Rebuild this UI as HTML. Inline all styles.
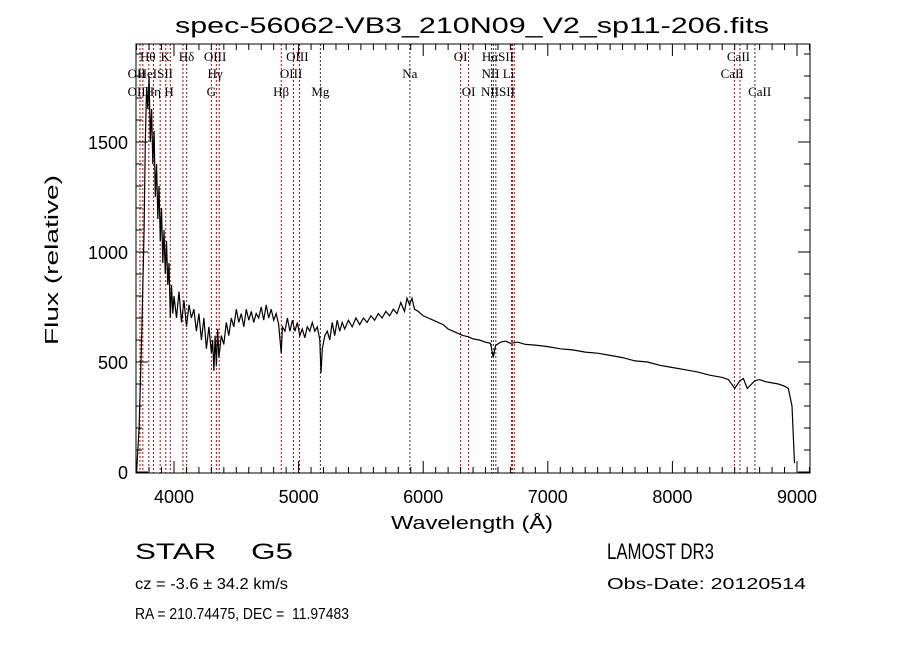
<!DOCTYPE html>
<html><head><meta charset="utf-8"><style>
html,body{margin:0;padding:0;background:#fff}
svg{display:block}
text{font-family:"Liberation Sans",sans-serif;fill:#000;white-space:pre}
.lbl{font-family:"Liberation Serif",serif;font-size:13px}
</style></head><body>
<svg id="chart" width="900" height="649" viewBox="0 0 900 649" xml:space="preserve">
<text x="472" y="33" text-anchor="middle" font-size="22" textLength="594" lengthAdjust="spacingAndGlyphs">spec-56062-VB3_210N09_V2_sp11-206.fits</text>
<g id="lines"></g>
<g id="labels"></g>
<g id="axes"></g>
<path id="spec" fill="none" stroke="#000" stroke-width="1.2"></path>
<rect x="136" y="44" width="674" height="429" fill="none" stroke="#000" stroke-width="1"></rect>
<text transform="translate(58,260) rotate(-90)" text-anchor="middle" font-size="18" textLength="170" lengthAdjust="spacingAndGlyphs">Flux (relative)</text>
<text x="472" y="529" text-anchor="middle" font-size="18" textLength="162" lengthAdjust="spacingAndGlyphs">Wavelength (Å)</text>
<text x="135" y="559" font-size="22" textLength="158" lengthAdjust="spacingAndGlyphs">STAR    G5</text>
<text x="607" y="559" font-size="22" textLength="107" lengthAdjust="spacingAndGlyphs">LAMOST DR3</text>
<text x="135" y="589" font-size="16" textLength="153" lengthAdjust="spacingAndGlyphs">cz = -3.6 ± 34.2 km/s</text>
<text x="607" y="589" font-size="16" textLength="199" lengthAdjust="spacingAndGlyphs">Obs-Date: 20120514</text>
<text x="135" y="619" font-size="16" textLength="214" lengthAdjust="spacingAndGlyphs">RA = 210.74475, DEC =  11.97483</text>
</svg>
<script>
const wavelengths=[3700,3720,3740,3760,3770,3780,3790,3800,3810,3820,3830,3840,3850,3860,3870,3880,3890,3900,3910,3920,3930,3940,3950,3960,3970,3980,3990,4000,4020,4040,4060,4080,4100,4120,4140,4160,4180,4200,4220,4240,4260,4280,4300,4310,4320,4330,4340,4350,4360,4380,4400,4420,4440,4460,4480,4500,4520,4540,4560,4580,4600,4620,4640,4660,4680,4700,4720,4740,4760,4780,4800,4820,4840,4860,4870,4890,4910,4930,4950,4970,4990,5010,5030,5050,5070,5090,5110,5130,5150,5170,5180,5190,5210,5230,5250,5270,5290,5310,5330,5350,5370,5400,5430,5460,5490,5520,5550,5580,5610,5640,5670,5700,5730,5760,5790,5820,5850,5870,5890,5910,5930,5960,6000,6040,6080,6120,6160,6200,6240,6280,6320,6360,6400,6450,6500,6540,6563,6580,6620,6660,6700,6760,6820,6900,7000,7100,7200,7300,7400,7500,7600,7700,7800,7900,8000,8100,8200,8300,8400,8450,8500,8542,8570,8600,8662,8700,8750,8800,8850,8900,8930,8960,8980,9000];
const flux=[0,200,600,1100,1500,1750,1650,1800,1500,1650,1400,1550,1250,1400,1150,1300,1050,1200,950,1100,900,1050,850,950,700,850,720,800,700,820,680,780,660,760,700,740,640,720,600,700,560,660,540,600,460,620,480,650,520,620,580,680,620,700,660,740,680,720,660,740,690,730,680,720,700,750,690,760,700,740,690,720,670,540,660,640,700,640,690,640,680,620,650,610,660,640,680,640,660,600,450,560,620,640,600,680,620,690,640,680,650,690,660,700,670,700,680,710,690,720,700,730,710,740,720,770,730,790,760,790,740,730,710,700,690,680,670,650,640,630,620,615,605,600,590,585,520,575,590,595,585,590,580,577,570,560,555,545,540,530,520,505,500,485,475,465,455,440,430,420,380,415,425,380,415,420,410,405,400,390,380,300,40];
const lineWaves=[3727,3750,3798,3835,3889,3934,3970,4072,4102,4300,4340,4363,4861,4959,5007,5175,5893,6300,6364,6548,6563,6583,6708,6716,6731,8498,8542,8662];
const lineBlack=[false,false,false,false,false,false,false,false,true,false,false,false,false,false,false,true,true,false,false,true,true,true,false,false,false,false,false,true];
const labelText=["Hθ","K","Hδ","OIII","OIII","OI","HαSII","CaII","OII","HeISII","Hγ","OIII","Na","NII Li","CaII","OII","Hη","H","G","Hβ","Mg","OI","NIISII","CaII"];
const labelRow=[0,0,0,0,0,0,0,0,1,1,1,1,1,1,1,2,2,2,2,2,2,2,2,2];
const labelWave=[3790,3930,4100,4330,4990,6300,6600,8530,3700,3850,4330,4940,5893,6600,8480,3700,3830,3960,4300,4860,5175,6364,6600,8700];
const xTicks=[4000,5000,6000,7000,8000,9000];
const yTicks=[0,500,1000,1500];
const X0=136,X1=810,Y0=44,Y1=473;
const xs=w=>174+(w-4000)*0.1246;
const ys=f=>472-f*0.22;
const NS='http://www.w3.org/2000/svg';
function mk(tag,parent){const e=document.createElementNS(NS,tag);parent.appendChild(e);return e;}
const gl=document.getElementById('lines'),glb=document.getElementById('labels'),ga=document.getElementById('axes');
lineWaves.forEach((w,i)=>{const l=mk('line',gl);


l.setAttribute('x1',xs(w));l.setAttribute('x2',xs(w));l.setAttribute('y1',Y0);l.setAttribute('y2',Y1);
l.setAttribute('stroke',lineBlack[i]?'#333':'#c00000');l.setAttribute('stroke-width','1');l.setAttribute('stroke-dasharray','2,2');});
const rowY=[61,78,96];
labelText.forEach((t,i)=>{const e=mk('text',glb);


e.setAttribute('class','lbl');e.setAttribute('x',xs(labelWave[i]));e.setAttribute('y',rowY[labelRow[i]]);
e.setAttribute('text-anchor','middle');e.textContent=t;});
for(let w=3700;w<=9100;w+=100){const major=w%1000===0;const len=major?12:6;
[[Y1,Y1-len],[Y0,Y0+len]].forEach(p=>{const l=mk('line',ga);


l.setAttribute('x1',xs(w));l.setAttribute('x2',xs(w));l.setAttribute('y1',p[0]);l.setAttribute('y2',p[1]);l.setAttribute('stroke','#000');});}
for(let f=0;f<=1900;f+=100){const major=f%500===0;const len=major?12:6;
[[X0,X0+len],[X1,X1-len]].forEach(p=>{const l=mk('line',ga);


l.setAttribute('y1',ys(f));l.setAttribute('y2',ys(f));l.setAttribute('x1',p[0]);l.setAttribute('x2',p[1]);l.setAttribute('stroke','#000');});}
xTicks.forEach(w=>{const e=mk('text',ga);


e.setAttribute('x',xs(w));e.setAttribute('y',503);e.setAttribute('text-anchor','middle');e.setAttribute('font-size','18');e.textContent=w;});
yTicks.forEach(f=>{const e=mk('text',ga);


e.setAttribute('x',128);e.setAttribute('y',ys(f)+7);e.setAttribute('text-anchor','end');e.setAttribute('font-size','18');e.textContent=f;});
document.getElementById('spec').setAttribute('d',wavelengths.map((w,i)=>(i?'L':'M')+xs(w).toFixed(1)+','+ys(flux[i]).toFixed(1)).join(''));
</script>
</body></html>
